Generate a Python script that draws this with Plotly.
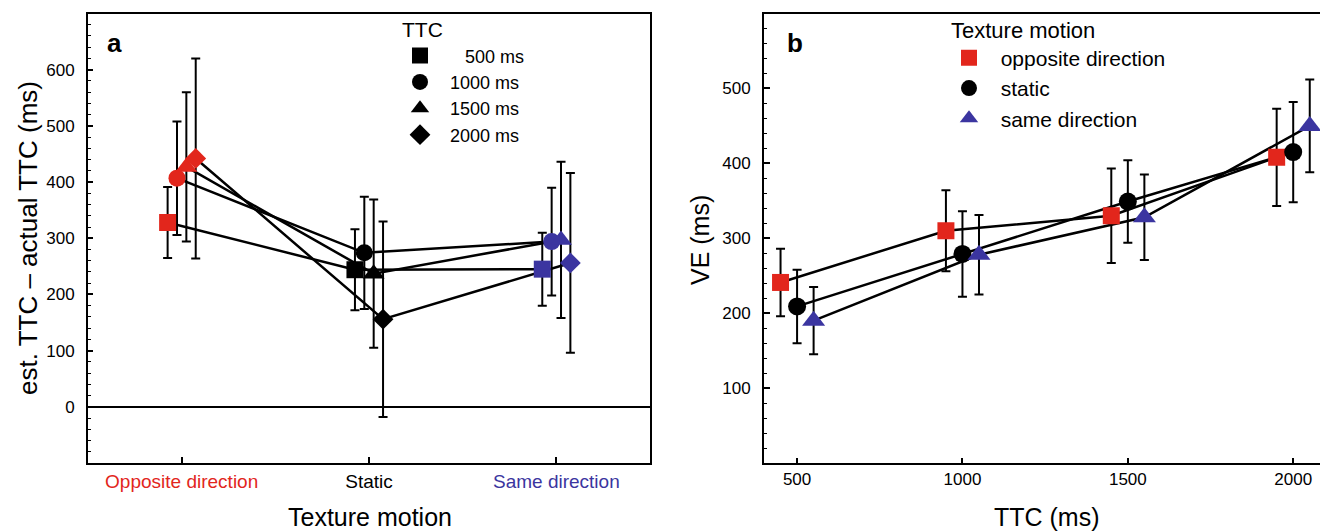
import plotly.graph_objects as go

# ---------------- data ----------------
motion_labels = ["Opposite direction", "Static", "Same direction"]
motion_colors = ["#e2261c", "#000000", "#3b35a0"]
ttc_names = ["500 ms", "1000 ms", "1500 ms", "2000 ms"]
ttc_symbols = ["square", "circle", "triangle-up", "diamond"]
ttc_offsets = [-0.075, -0.025, 0.025, 0.075]

# panel a: est. TTC - actual TTC (ms), rows = TTC, cols = motion
err_500 = [328, 244, 245]
err_500_sd = [63, 72, 65]
err_1000 = [407, 274, 294]
err_1000_sd = [101, 100, 96]
err_1500 = [427, 237, 297]
err_1500_sd = [133, 132, 139]
err_2000 = [442, 156, 256]
err_2000_sd = [178, 174, 160]
a_means = [err_500, err_1000, err_1500, err_2000]
a_sds = [err_500_sd, err_1000_sd, err_1500_sd, err_2000_sd]

# panel b: VE (ms), rows = motion, cols = TTC
ttc_values = [500, 1000, 1500, 2000]
b_names = ["opposite direction", "static", "same direction"]
b_symbols = ["square", "circle", "triangle-up"]
b_offsets = [-50, 0, 50]
ve_opposite = [241, 310, 330, 408]
ve_opposite_sd = [45, 54, 63, 65]
ve_static = [209, 279, 349, 415]
ve_static_sd = [49, 57, 55, 67]
ve_same = [190, 278, 328, 450]
ve_same_sd = [45, 53, 57, 62]
b_means = [ve_opposite, ve_static, ve_same]
b_sds = [ve_opposite_sd, ve_static_sd, ve_same_sd]

FONT = "Liberation Sans, Arial, Helvetica, sans-serif"
W, H = 1320, 532

a_sizes = {"square": 17, "circle": 17, "triangle-up": 19, "diamond": 16}
b_sizes = {"square": 17, "circle": 18, "triangle-up": 20}

fig = go.Figure()

# ---------------- panel a ----------------
for i in range(4):
    xs = [c + ttc_offsets[i] for c in range(3)]
    fig.add_trace(go.Scatter(
        x=xs, y=a_means[i], mode="lines", xaxis="x", yaxis="y",
        line=dict(color="black", width=2.5), showlegend=False,
        error_y=dict(type="data", array=a_sds[i], visible=True,
                     color="black", thickness=2, width=4.5),
        hoverinfo="skip"))
for i in range(4):
    xs = [c + ttc_offsets[i] for c in range(3)]
    fig.add_trace(go.Scatter(
        x=xs, y=a_means[i], mode="markers", xaxis="x", yaxis="y",
        marker=dict(symbol=ttc_symbols[i], color=motion_colors,
                    size=a_sizes[ttc_symbols[i]], line=dict(width=0)),
        showlegend=False, name=ttc_names[i]))
# legend (black symbols)
pads = ["\u00a0\u00a0\u00a0\u00a0\u00a0", "\u00a0\u00a0", "\u00a0\u00a0", "\u00a0\u00a0"]
for i in range(4):
    fig.add_trace(go.Scatter(
        x=[None], y=[None], mode="markers", xaxis="x", yaxis="y",
        marker=dict(symbol=ttc_symbols[i], color="black", size=17),
        name=pads[i] + ttc_names[i], legend="legend", showlegend=True))

# ---------------- panel b ----------------
for j in range(3):
    xs = [t + b_offsets[j] for t in ttc_values]
    fig.add_trace(go.Scatter(
        x=xs, y=b_means[j], mode="lines", xaxis="x2", yaxis="y2",
        line=dict(color="black", width=2.5), showlegend=False,
        error_y=dict(type="data", array=b_sds[j], visible=True,
                     color="black", thickness=2, width=4.5),
        hoverinfo="skip"))
for j in range(3):
    xs = [t + b_offsets[j] for t in ttc_values]
    fig.add_trace(go.Scatter(
        x=xs, y=b_means[j], mode="markers", xaxis="x2", yaxis="y2",
        marker=dict(symbol=b_symbols[j], color=motion_colors[j],
                    size=b_sizes[b_symbols[j]], line=dict(width=0)),
        showlegend=False, name=b_names[j]))
for j in range(3):
    fig.add_trace(go.Scatter(
        x=[None], y=[None], mode="markers", xaxis="x2", yaxis="y2",
        marker=dict(symbol=b_symbols[j], color=motion_colors[j], size=18),
        name="\u00a0\u00a0" + b_names[j], legend="legend2", showlegend=True))

ydom = [1 - 463 / H, 1 - 13.5 / H]
ticktext_a = ["<span style='color:%s'>%s</span>" % (c, t)
              for c, t in zip(motion_colors, motion_labels)]

base = dict(showline=True, linecolor="black", linewidth=2,
            ticks="inside", tickcolor="black", tickwidth=1.5,
            showgrid=False, zeroline=False)
tick_font = dict(family=FONT, size=17, color="black")
minor = dict(ticks="inside", ticklen=3, tickcolor="black",
             tickwidth=1, tickmode="linear", tick0=0, dtick=20)

fig.update_layout(
    width=W, height=H,
    margin=dict(l=0, r=0, t=0, b=0),
    paper_bgcolor="white", plot_bgcolor="white",
    font=dict(family=FONT, color="black"),
    xaxis=dict(domain=[88 / W, 650 / W], range=[-0.5, 2.5],
               tickvals=[0, 1, 2], ticktext=ticktext_a, ticklen=6,
               mirror=True, anchor="y", ticklabelstandoff=0,
               tickfont=dict(family=FONT, size=19), **base),
    yaxis=dict(domain=ydom, range=[-100, 700],
               tickvals=[0, 100, 200, 300, 400, 500, 600], ticklen=5,
               mirror=True, anchor="x", ticklabelstandoff=8,
               minor=minor, tickfont=tick_font,
               **{k: v for k, v in base.items() if k != "zeroline"},
               zeroline=True, zerolinecolor="black", zerolinewidth=2),
    xaxis2=dict(domain=[764 / W, 1.0], range=[400, 2081],
                tickvals=ttc_values, ticklen=5,
                mirror=True, anchor="y2", ticklabelstandoff=0,
                tickfont=tick_font, **base),
    yaxis2=dict(domain=ydom, range=[0, 600],
                tickvals=[100, 200, 300, 400, 500], ticklen=6,
                mirror=False, anchor="x2", ticklabelstandoff=8,
                minor=minor, tickfont=tick_font, **base),
    legend=dict(x=400 / W, y=1 - 10 / H, xanchor="left", yanchor="top",
                bgcolor="rgba(0,0,0,0)", borderwidth=0,
                font=dict(family=FONT, size=18, color="black"),
                title=dict(text="TTC", font=dict(family=FONT, size=21))),
    legend2=dict(x=949 / W, y=1 - 9 / H, xanchor="left", yanchor="top",
                 bgcolor="rgba(0,0,0,0)", borderwidth=0,
                 font=dict(family=FONT, size=21, color="black"),
                 title=dict(text="Texture motion", font=dict(family=FONT, size=22))),
    showlegend=True,
)

ann = [
    dict(text="<b>a</b>", x=105 / W, y=1 - 43 / H, font=dict(size=26)),
    dict(text="<b>b</b>", x=785 / W, y=1 - 43 / H, font=dict(size=26)),
    dict(text="est. TTC \u2013 actual TTC (ms)", x=28 / W, y=1 - 238 / H,
         textangle=-90, font=dict(size=26), xanchor="center"),
    dict(text="VE (ms)", x=700 / W, y=1 - 240 / H,
         textangle=-90, font=dict(size=25), xanchor="center"),
    dict(text="Texture motion", x=370 / W, y=1 - 517 / H, font=dict(size=25),
         xanchor="center"),
    dict(text="TTC (ms)", x=1047 / W, y=1 - 517 / H, font=dict(size=25),
         xanchor="center"),
]
for a in ann:
    a.setdefault("xanchor", "left")
    fig.add_annotation(xref="paper", yref="paper", showarrow=False,
                       yanchor="middle", **a)

fig.write_html("out.html",
               config={"displayModeBar": False},
               post_script="document.body.style.margin='0';document.body.style.overflow='hidden';")
